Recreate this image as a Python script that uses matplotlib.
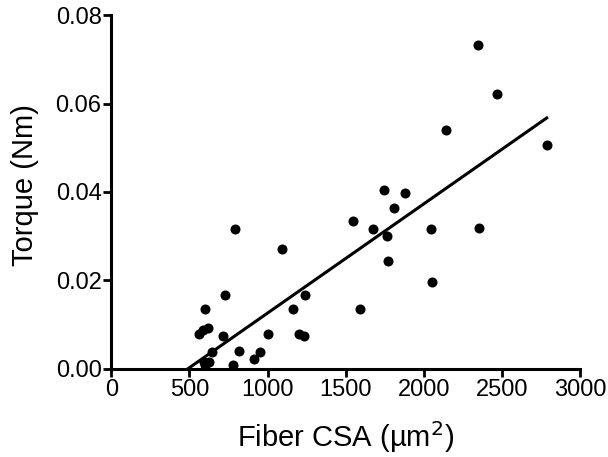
import numpy as np
import matplotlib
matplotlib.use("Agg")
import matplotlib.pyplot as plt

plt.rcParams['font.family'] = ['Liberation Sans', 'DejaVu Sans']

# fiber cross-sectional area (um^2) and torque (Nm)
csa = [2347, 2470, 2790, 2143, 1745, 1879, 1809, 1547, 1675, 1764,
       2047, 2353, 1770, 2053, 1592, 1240,
       793, 1095, 730, 600, 561, 590, 621, 717, 1005, 1165,
       1201, 1233, 819, 952, 911, 781, 643, 595, 625, 600]
torque = [0.0732, 0.0621, 0.0506, 0.0540, 0.0404, 0.0397, 0.0364, 0.0334, 0.0316, 0.0300,
          0.0316, 0.0319, 0.0244, 0.0197, 0.0135, 0.0167,
          0.0316, 0.0271, 0.0167, 0.0135, 0.0079, 0.0088, 0.0092, 0.0075, 0.0079, 0.0136,
          0.0078, 0.0074, 0.0040, 0.0037, 0.0022, 0.0009, 0.0038, 0.0015, 0.0015, 0.0008]

# regression line
fit_slope = 2.47e-5
fit_x0 = 490
fit_range = [490, 2787]

xticks = [0, 500, 1000, 1500, 2000, 2500, 3000]
yticks = [0.00, 0.02, 0.04, 0.06, 0.08]

fig = plt.figure(figsize=(6.08, 4.57), dpi=100)
ax = fig.add_axes([0.183, 0.193, 0.771, 0.774])

ax.scatter(csa, torque, s=52, color='black', zorder=3, clip_on=False, linewidths=0)
fx = np.array(fit_range)
ax.plot(fx, fit_slope * (fx - fit_x0), color='black', lw=2.2, zorder=2)

ax.set_xlim(0, 3000)
ax.set_ylim(0, 0.08)
ax.set_xticks(xticks)
ax.set_yticks(yticks)
ax.set_yticklabels(['%.2f' % v for v in yticks])

for s in ['top', 'right']:
    ax.spines[s].set_visible(False)
for s in ['left', 'bottom']:
    ax.spines[s].set_linewidth(2.2)
ax.tick_params(width=2, length=5.5, labelsize=17, pad=1.5, direction='out')

ax.set_xlabel('Fiber CSA (µm$^2$)', fontsize=21)
ax.set_ylabel('Torque (Nm)', fontsize=21)
ax.xaxis.set_label_coords(0.5, -0.142)
ax.yaxis.set_label_coords(-0.155, 0.52)

fig.savefig('out.png', dpi=100)
